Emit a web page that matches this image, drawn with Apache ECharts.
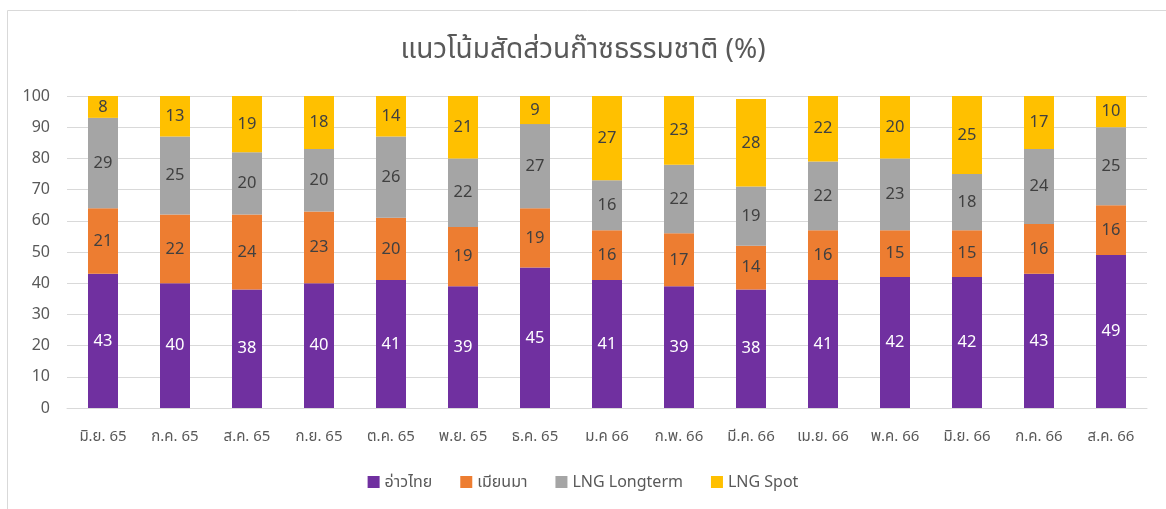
<!DOCTYPE html>
<html>
<head>
<meta charset="utf-8">
<script src="https://cdn.jsdelivr.net/npm/echarts@6/dist/echarts.min.js"></script>
<style>
html,body{margin:0;padding:0;background:#fff;}
#c{width:1166px;height:509px;}
</style>
</head>
<body>
<div id="c"></div>
<script>
const categories = ['มิ.ย. 65','ก.ค. 65','ส.ค. 65','ก.ย. 65','ต.ค. 65','พ.ย. 65','ธ.ค. 65','ม.ค 66','ก.พ. 66','มี.ค. 66','เม.ย. 66','พ.ค. 66','มิ.ย. 66','ก.ค. 66','ส.ค. 66'];
const gulfThai = [43,40,38,40,41,39,45,41,39,38,41,42,42,43,49];
const myanmar = [21,22,24,23,20,19,19,16,17,14,16,15,15,16,16];
const lngLongterm = [29,25,20,20,26,22,27,16,22,19,22,23,18,24,25];
const lngSpot = [8,13,19,18,14,21,9,27,23,28,22,20,25,17,10];
const yTicks = [0,10,20,30,40,50,60,70,80,90,100];

const font = '"Noto Sans", "Noto Sans Thai", Tahoma, sans-serif';
const chart = echarts.init(document.getElementById('c'), null, {renderer:'canvas'});
function mk(name, data, color, labelColor){
  return {
    name: name, type: 'bar', stack: 'total', data: data, barWidth: 30,
    itemStyle: {color: color},
    label: {show: true, position: 'inside', color: labelColor, fontSize: 16.5, fontFamily: font},
    clip: true
  };
}
chart.setOption({
  animation: false,
  textStyle: {fontFamily: font},
  title: {text: 'แนวโน้มสัดส่วนก๊าซธรรมชาติ (%)', left: 'center', top: 31,
    textStyle: {fontSize: 28, fontWeight: 'normal', color: '#595959', fontFamily: font}},
  graphic: [{type:'rect', shape:{x:7.5, y:10.5, width:1200, height:600},
    style:{fill:'none', stroke:'#d9d9d9', lineWidth:1}, z: -1}],
  legend: {bottom: 14, left: 'center', itemWidth: 12, itemHeight: 12, itemGap: 28,
    icon: 'rect',
    textStyle: {fontSize: 16, color: '#595959', fontFamily: font}},
  grid: {left: 67, right: 19, top: 96, bottom: 101, containLabel: false},
  xAxis: {type: 'category', data: categories,
    axisLine: {lineStyle: {color: '#d9d9d9', width: 1}},
    axisTick: {show: false},
    axisLabel: {color: '#595959', fontSize: 15, margin: 21, interval: 0, fontFamily: font}},
  yAxis: {type: 'value', min: yTicks[0], max: yTicks[yTicks.length-1], interval: 10,
    axisLine: {show: false}, axisTick: {show: false},
    splitLine: {lineStyle: {color: '#d9d9d9', width: 1}},
    axisLabel: {color: '#595959', fontSize: 16, margin: 17, fontFamily: font}},
  series: [
    mk('อ่าวไทย', gulfThai, '#7030A0', '#ffffff'),
    mk('เมียนมา', myanmar, '#ED7D31', '#404040'),
    mk('LNG Longterm', lngLongterm, '#A5A5A5', '#404040'),
    mk('LNG Spot', lngSpot, '#FFC000', '#404040')
  ]
});
</script>
</body>
</html>
